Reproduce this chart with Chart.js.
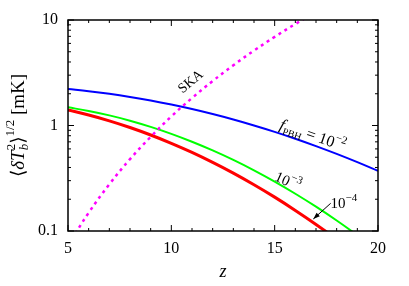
<!DOCTYPE html>
<html>
<head>
<meta charset="utf-8">
<script src="https://cdn.jsdelivr.net/npm/chart.js@4.4.1/dist/chart.umd.min.js"></script>
<style>
    html, body { margin: 0; padding: 0; background: #fff; }
    #wrap { width: 409px; height: 286px; position: relative; }
</style>
</head>
<body>
<div id="wrap"><canvas id="chart"></canvas></div>
<script>
// redshift grid and the rms brightness temperature curves (mK)
const redshifts = [5, 6, 7, 8, 9, 10, 11, 12, 13, 14, 15, 16, 17, 18, 19, 20];
const fpbh1e2 = [2.218, 2.116, 1.998, 1.867, 1.727, 1.580, 1.432, 1.284, 1.140, 1.001, 0.871, 0.749, 0.638, 0.538, 0.449, 0.371];
const fpbh1e3 = [1.486, 1.374, 1.247, 1.111, 0.971, 0.834, 0.702, 0.581, 0.472, 0.376, 0.294, 0.2255, 0.170, 0.1257, 0.0912, 0.065];
const fpbh1e4 = [1.403, 1.257, 1.107, 0.957, 0.813, 0.678, 0.556, 0.447, 0.3536, 0.2745, 0.2094, 0.1568, 0.1155, 0.0834, 0.0592, 0.0413];

// SKA sensitivity
const skaRedshifts = [5, 6, 7, 8, 9, 10, 11, 12, 13, 14, 15, 16, 17];
const skaNoise = [0.073, 0.149, 0.277, 0.48, 0.78, 1.22, 1.82, 2.64, 3.72, 5.13, 6.92, 9.16, 11.97];

const xTicks = [5, 10, 15, 20];
const yTicks = [0.1, 1, 10];
const yTickLabels = ['0.1', '1', '10'];

const SERIF = "'Liberation Serif', 'DejaVu Serif', serif";

function toPoints(xs, ys) {
    return xs.map((x, i) => ({ x: x, y: ys[i] }));
}

// draw a run of text pieces (for sub/superscripts), centred on x,y
function drawRich(ctx, parts, x, y, angle) {
    ctx.save();
    ctx.translate(x, y);
    ctx.rotate(angle * Math.PI / 180);
    ctx.textBaseline = 'alphabetic';
    ctx.textAlign = 'left';
    let total = 0;
    parts.forEach(p => {
        ctx.font = (p.italic ? 'italic ' : '') + p.size + 'px ' + SERIF;
        p.w = ctx.measureText(p.t).width;
        if (!p.stack) total += p.w;
    });
    let cx = -total / 2;
    parts.forEach(p => {
        ctx.font = (p.italic ? 'italic ' : '') + p.size + 'px ' + SERIF;
        ctx.fillText(p.t, cx, 5 + (p.dy || 0));
        if (!p.stack) cx += p.w;
    });
    ctx.restore();
}

const frameAndLabels = {
    id: 'frameAndLabels',
    afterDatasetsDraw(chart) {
        const ctx = chart.ctx;
        const area = chart.chartArea;
        const xs = chart.scales.x;
        const ys = chart.scales.y;
        ctx.save();
        ctx.strokeStyle = '#000';
        ctx.fillStyle = '#000';

        // inward tick marks, all four sides
        ctx.lineWidth = 1;
        ctx.beginPath();
        for (let z = 5; z <= 20; z++) {
            const px = xs.getPixelForValue(z);
            const len = xTicks.includes(z) ? 6 : 3;
            ctx.moveTo(px, area.bottom); ctx.lineTo(px, area.bottom - len);
            ctx.moveTo(px, area.top); ctx.lineTo(px, area.top + len);
        }
        [0.1, 1].forEach(dec => {
            for (let m = 1; m <= 10; m++) {
                const py = ys.getPixelForValue(dec * m);
                const len = (m === 1 || m === 10) ? 6 : 3;
                ctx.moveTo(area.left, py); ctx.lineTo(area.left + len, py);
                ctx.moveTo(area.right, py); ctx.lineTo(area.right - len, py);
            }
        });
        ctx.stroke();

        ctx.lineWidth = 1.5;
        ctx.strokeRect(area.left, area.top, area.right - area.left, area.bottom - area.top);

        // axis titles
        drawRich(ctx, [
            { t: '⟨', size: 19 },
            { t: 'δT', size: 19, italic: true },
            { t: '2', size: 13, dy: -9, stack: true },
            { t: 'b', size: 13, italic: true, dy: 4 },
            { t: '⟩', size: 19 },
            { t: '1/2', size: 13, dy: -10 },
            { t: ' [mK]', size: 19 }
        ], 19, (area.top + area.bottom) / 2, -90);
        drawRich(ctx, [{ t: 'z', size: 18, italic: true }], (area.left + area.right) / 2, 272, 0);

        // curve labels
        const at = (z, v) => [xs.getPixelForValue(z), ys.getPixelForValue(v)];
        let p = at(10.9, 2.64);
        drawRich(ctx, [{ t: 'SKA', size: 14 }], p[0], p[1], -40);
        p = at(16.85, 0.81);
        drawRich(ctx, [
            { t: 'f', size: 16, italic: true },
            { t: 'PBH', size: 10, dy: 4 },
            { t: ' = 10', size: 16 },
            { t: '−2', size: 11, dy: -7 }
        ], p[0], p[1], 19);
        p = at(15.64, 0.298);
        drawRich(ctx, [{ t: '10', size: 15 }, { t: '−3', size: 11, dy: -7 }], p[0], p[1], 24);
        p = at(18.35, 0.184);
        drawRich(ctx, [{ t: '10', size: 15 }, { t: '−4', size: 11, dy: -7 }], p[0], p[1], 0);

        // arrow to the 1e-4 curve
        const a0 = at(17.71, 0.183);
        const a1 = at(16.87, 0.130);
        ctx.lineWidth = 1;
        ctx.beginPath();
        ctx.moveTo(a0[0], a0[1]);
        ctx.lineTo(a1[0], a1[1]);
        ctx.stroke();
        const ang = Math.atan2(a1[1] - a0[1], a1[0] - a0[0]);
        ctx.beginPath();
        ctx.moveTo(a1[0], a1[1]);
        ctx.lineTo(a1[0] - 7 * Math.cos(ang - 0.35), a1[1] - 7 * Math.sin(ang - 0.35));
        ctx.lineTo(a1[0] - 7 * Math.cos(ang + 0.35), a1[1] - 7 * Math.sin(ang + 0.35));
        ctx.closePath();
        ctx.fill();
        ctx.restore();
    }
};

new Chart(document.getElementById('chart'), {
    type: 'line',
    data: {
        datasets: [
            {
                label: 'SKA',
                data: toPoints(skaRedshifts, skaNoise),
                borderColor: '#ff00ff',
                borderWidth: 2.5,
                borderDash: [3, 4],
                pointRadius: 0,
                tension: 0.4
            },
            {
                label: 'f = 1e-2',
                data: toPoints(redshifts, fpbh1e2),
                borderColor: '#0000ff',
                borderWidth: 2,
                pointRadius: 0,
                tension: 0.4
            },
            {
                label: 'f = 1e-3',
                data: toPoints(redshifts, fpbh1e3),
                borderColor: '#00ff00',
                borderWidth: 2,
                pointRadius: 0,
                tension: 0.4
            },
            {
                label: 'f = 1e-4',
                data: toPoints(redshifts, fpbh1e4),
                borderColor: '#ff0000',
                borderWidth: 3,
                pointRadius: 0,
                tension: 0.4
            }
        ]
    },
    options: {
        responsive: true,
        maintainAspectRatio: false,
        animation: false,
        layout: { padding: { top: 20, right: 31, left: 0, bottom: 0 } },
        plugins: { legend: { display: false }, tooltip: { enabled: false } },
        scales: {
            x: {
                type: 'linear',
                min: 5,
                max: 20,
                afterBuildTicks: s => { s.ticks = xTicks.map(v => ({ value: v })); },
                afterFit: s => { s.height = 55; },
                grid: { display: false, drawTicks: false },
                border: { display: false },
                ticks: { color: '#000', padding: 8, font: { family: SERIF, size: 16 } }
            },
            y: {
                type: 'logarithmic',
                min: 0.1,
                max: 10,
                afterBuildTicks: s => { s.ticks = yTicks.map(v => ({ value: v })); },
                afterFit: s => { s.width = 68; },
                grid: { display: false, drawTicks: false },
                border: { display: false },
                ticks: {
                    color: '#000',
                    padding: 10,
                    font: { family: SERIF, size: 16 },
                    callback: (v) => yTickLabels[yTicks.indexOf(v)]
                }
            }
        }
    },
    plugins: [frameAndLabels]
});
</script>
</body>
</html>
